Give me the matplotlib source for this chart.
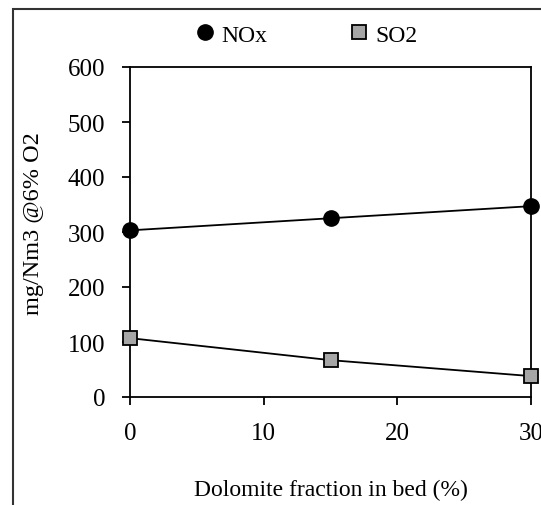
import matplotlib.pyplot as plt
from matplotlib.patches import Rectangle

x = [0, 15, 30]
nox = [303, 325, 347]
so2 = [107, 67, 38]
xticks = [0, 10, 20, 30]
yticks = [0, 100, 200, 300, 400, 500, 600]

plt.rcParams['font.family'] = ['Liberation Serif']
W, H = 541, 506
fig = plt.figure(figsize=(W/100, H/100), dpi=100)
ax = fig.add_axes([130/W, 1-398/H, (531-130)/W, (398-68)/H])

ax.plot(x, nox, color='black', lw=1.3, marker='o', ms=11, mfc='black', mec='black', label='NOx', zorder=3, clip_on=False)
ax.plot(x, so2, color='black', lw=1.3, marker='s', ms=10, mfc='#a6a6a6', mec='black', mew=1.3, label='SO2', zorder=3, clip_on=False)

ax.set_xlim(0, 30)
ax.set_ylim(0, 600)
ax.set_xticks(xticks)
ax.set_yticks(yticks)
ax.tick_params(direction='out', length=6, width=1.3, labelsize=18, pad=12)
ax.tick_params(axis='x', pad=12)
for s in ax.spines.values():
    s.set_linewidth(1.3)
ax.set_xlabel('Dolomite fraction in bed (%)', fontsize=17, labelpad=25)
ax.set_ylabel('mg/Nm3 @6% O2', fontsize=17.5)
ax.yaxis.set_label_coords(-0.215, 0.53)

leg = ax.legend(loc='lower center', bbox_to_anchor=(0.44, 1.0), ncol=2, frameon=False,
                fontsize=17, handlelength=0.8, columnspacing=3.45, handletextpad=0.3)
for h in leg.legend_handles:
    h.set_linestyle('none')

fig.patches.append(Rectangle((13/W, -0.1), 1.2, 1-10/H+0.1, transform=fig.transFigure,
                             fill=False, ec='#333333', lw=1.5, figure=fig))

fig.savefig('out.png', dpi=100)
